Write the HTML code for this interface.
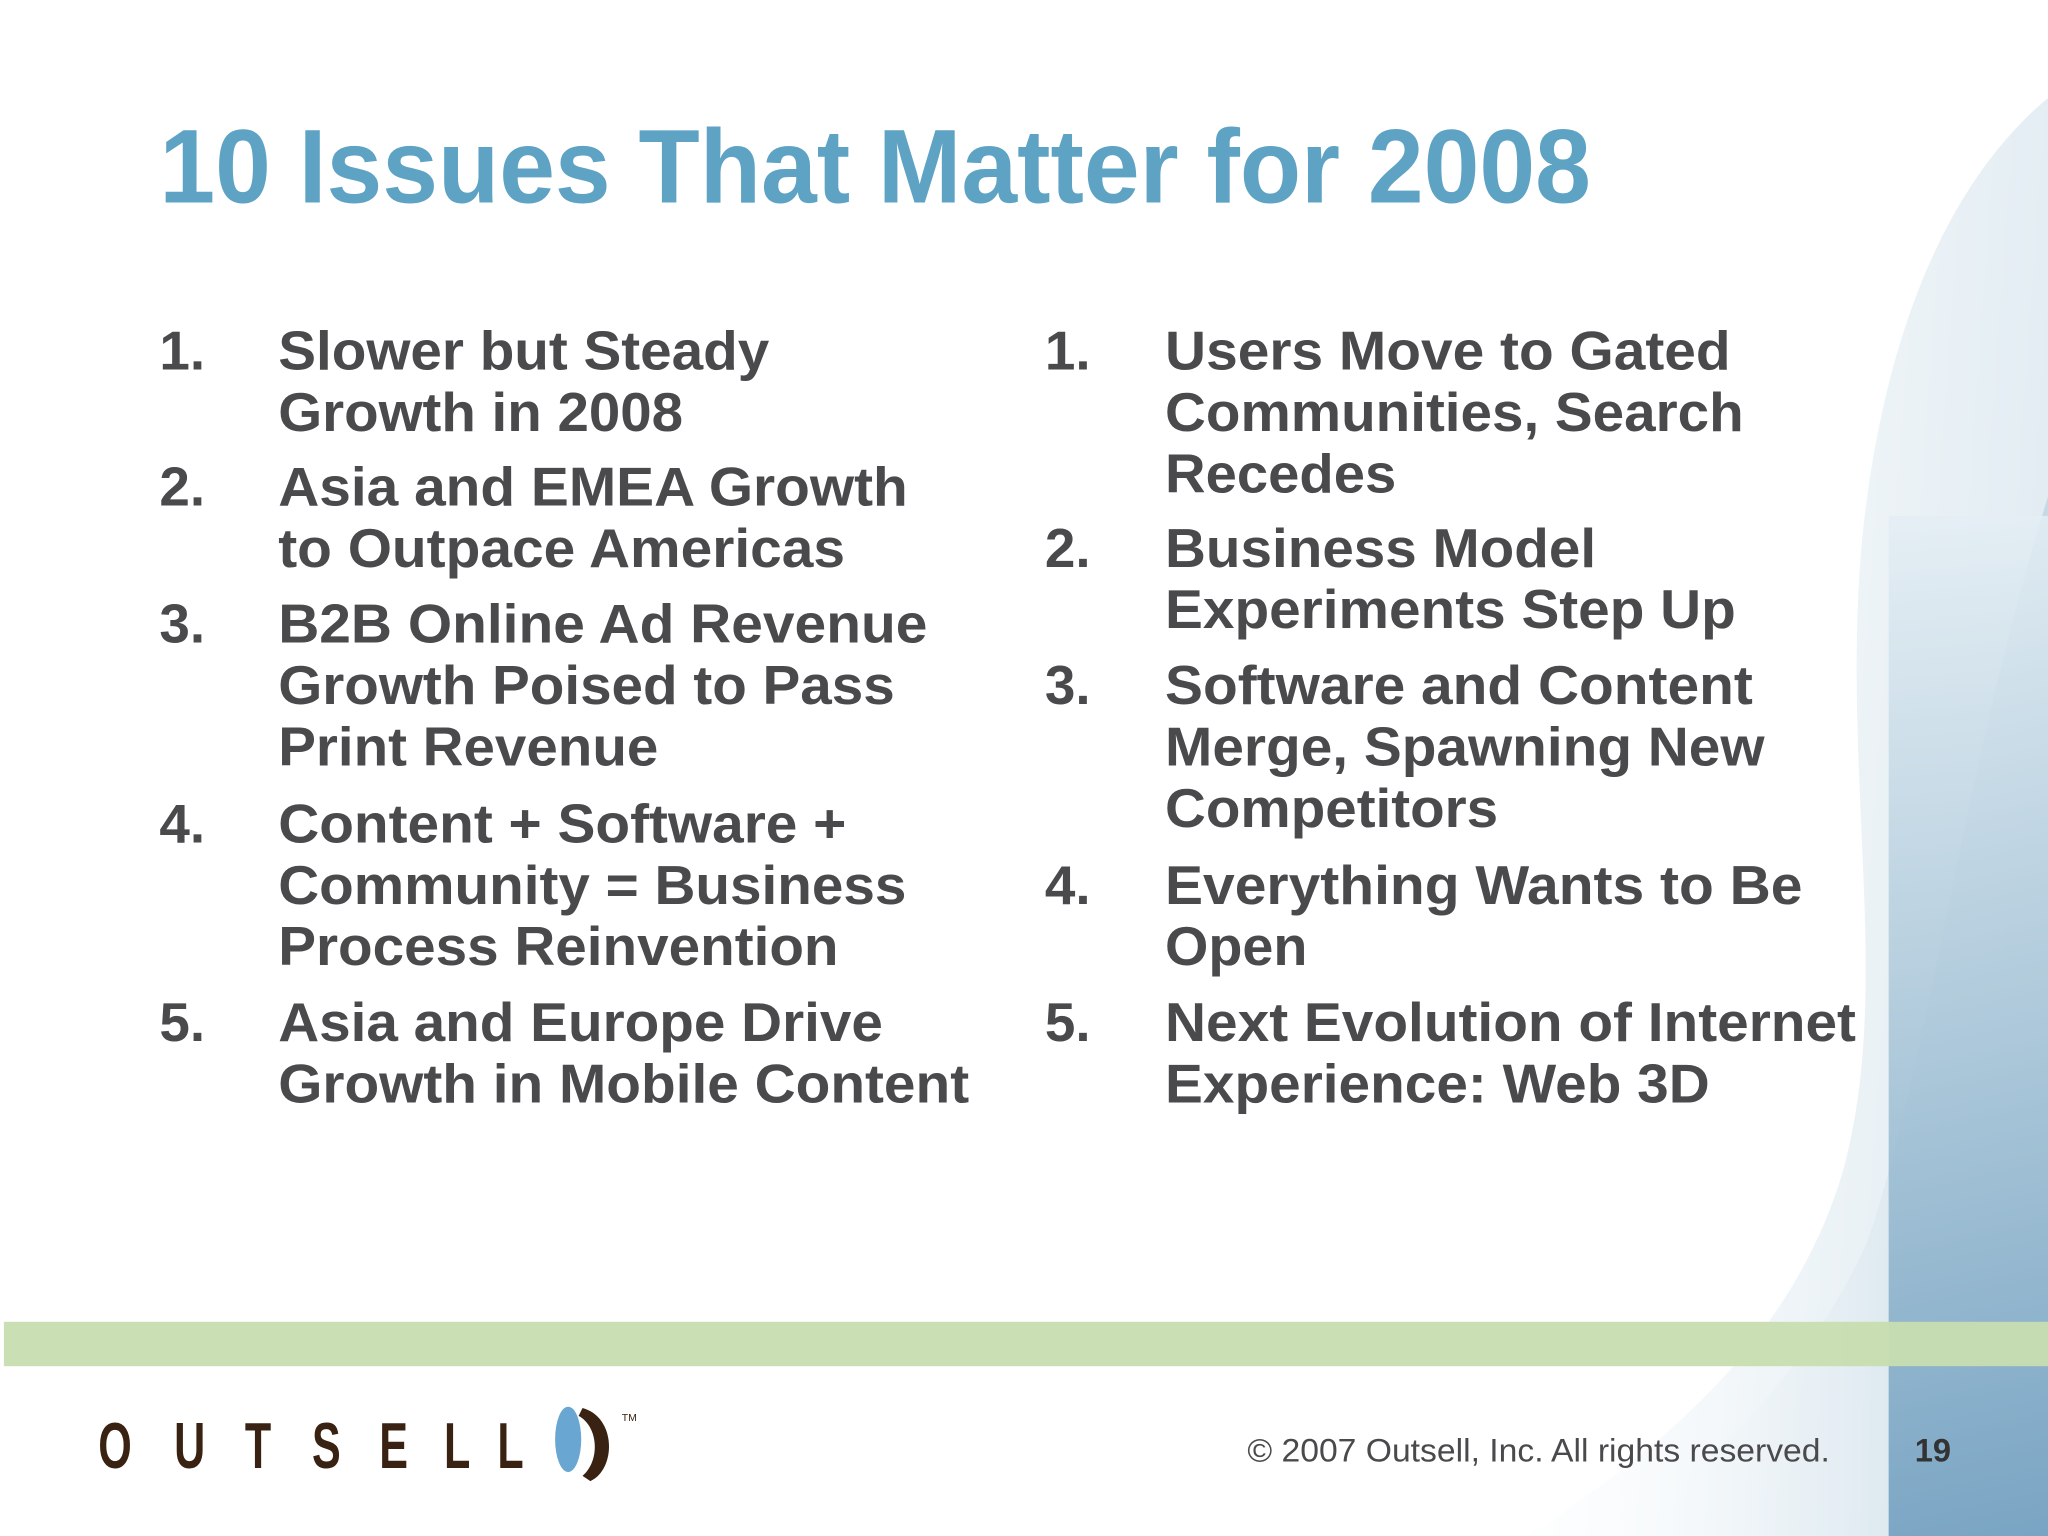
<!DOCTYPE html>
<html><head><meta charset="utf-8"><style>
html,body{margin:0;padding:0;background:#fff;}
svg{display:block;}
</style></head><body>
<svg width="2048" height="1536" viewBox="0 0 1568 1176" preserveAspectRatio="none" xmlns="http://www.w3.org/2000/svg" font-family="'Liberation Sans', Arial, sans-serif">
<defs>
<linearGradient id="g1" x1="0" y1="0" x2="1" y2="0.2">
<stop offset="0" stop-color="#ffffff" stop-opacity="0"/>
<stop offset="0.6" stop-color="#e6eff4"/>
<stop offset="1" stop-color="#cfe0ea"/>
</linearGradient>
<linearGradient id="g2" x1="0" y1="0" x2="0" y2="1">
<stop offset="0" stop-color="#e4eef4"/>
<stop offset="0.5" stop-color="#a8c5d8"/>
<stop offset="1" stop-color="#6b9bbd"/>
</linearGradient>
<linearGradient id="g3" x1="0" y1="0" x2="1" y2="0">
<stop offset="0" stop-color="#ffffff" stop-opacity="0"/>
<stop offset="1" stop-color="#b3cddd"/>
</linearGradient>
</defs>
<rect x="0" y="0" width="1568" height="1176" fill="#ffffff"/>
<path d="M1568,75 C1490,140 1440,260 1425,420 C1410,600 1450,760 1410,900 C1370,1030 1270,1110 1170,1176 L1568,1176 Z" fill="url(#g1)" opacity="0.6"/>
<path d="M1568,380 C1500,600 1480,800 1430,950 C1380,1060 1300,1130 1230,1176 L1568,1176 Z" fill="url(#g3)" opacity="0.6"/>
<rect x="1446" y="395" width="122" height="781" fill="url(#g2)" opacity="0.85"/>
<rect x="3" y="1012" width="1565" height="34" fill="#c8ddb0" opacity="0.95"/>

<text x="122" y="155" font-size="80" font-weight="bold" fill="#5fa3c4" textLength="1096" lengthAdjust="spacingAndGlyphs">10 Issues That Matter for 2008</text>

<g font-size="42" font-weight="bold" fill="#4a4a4c">
<text x="122" y="283">1.</text>
<text x="213" y="283" textLength="376" lengthAdjust="spacingAndGlyphs">Slower but Steady</text>
<text x="213" y="330" textLength="310" lengthAdjust="spacingAndGlyphs">Growth in 2008</text>
<text x="122" y="387">2.</text>
<text x="213" y="387" textLength="482" lengthAdjust="spacingAndGlyphs">Asia and EMEA Growth</text>
<text x="213" y="434" textLength="434" lengthAdjust="spacingAndGlyphs">to Outpace Americas</text>
<text x="122" y="492">3.</text>
<text x="213" y="492" textLength="497" lengthAdjust="spacingAndGlyphs">B2B Online Ad Revenue</text>
<text x="213" y="539" textLength="472" lengthAdjust="spacingAndGlyphs">Growth Poised to Pass</text>
<text x="213" y="586" textLength="291" lengthAdjust="spacingAndGlyphs">Print Revenue</text>
<text x="122" y="645">4.</text>
<text x="213" y="645" textLength="435" lengthAdjust="spacingAndGlyphs">Content + Software +</text>
<text x="213" y="692" textLength="481" lengthAdjust="spacingAndGlyphs">Community = Business</text>
<text x="213" y="739" textLength="429" lengthAdjust="spacingAndGlyphs">Process Reinvention</text>
<text x="122" y="797">5.</text>
<text x="213" y="797" textLength="463" lengthAdjust="spacingAndGlyphs">Asia and Europe Drive</text>
<text x="213" y="844" textLength="529" lengthAdjust="spacingAndGlyphs">Growth in Mobile Content</text>
</g>

<g font-size="42" font-weight="bold" fill="#4a4a4c">
<text x="800" y="283">1.</text>
<text x="892" y="283" textLength="433" lengthAdjust="spacingAndGlyphs">Users Move to Gated</text>
<text x="892" y="330" textLength="443" lengthAdjust="spacingAndGlyphs">Communities, Search</text>
<text x="892" y="377" textLength="177" lengthAdjust="spacingAndGlyphs">Recedes</text>
<text x="800" y="434">2.</text>
<text x="892" y="434" textLength="330" lengthAdjust="spacingAndGlyphs">Business Model</text>
<text x="892" y="481" textLength="437" lengthAdjust="spacingAndGlyphs">Experiments Step Up</text>
<text x="800" y="539">3.</text>
<text x="892" y="539" textLength="450" lengthAdjust="spacingAndGlyphs">Software and Content</text>
<text x="892" y="586" textLength="459" lengthAdjust="spacingAndGlyphs">Merge, Spawning New</text>
<text x="892" y="633" textLength="255" lengthAdjust="spacingAndGlyphs">Competitors</text>
<text x="800" y="692">4.</text>
<text x="892" y="692" textLength="488" lengthAdjust="spacingAndGlyphs">Everything Wants to Be</text>
<text x="892" y="739" textLength="109" lengthAdjust="spacingAndGlyphs">Open</text>
<text x="800" y="797">5.</text>
<text x="892" y="797" textLength="529" lengthAdjust="spacingAndGlyphs">Next Evolution of Internet</text>
<text x="892" y="844" textLength="417" lengthAdjust="spacingAndGlyphs">Experience: Web 3D</text>
</g>

<g>
<g transform="translate(0,1124) scale(0.66,1)" font-size="50" font-weight="bold" fill="#3a2212">
<text x="114" y="0">O</text>
<text x="202" y="0">U</text>
<text x="284" y="0">T</text>
<text x="362" y="0">S</text>
<text x="440" y="0">E</text>
<text x="515" y="0">L</text>
<text x="577" y="0">L</text>
</g>
<ellipse cx="435" cy="1102" rx="10" ry="25" fill="#6aa6d2"/>
<path d="M446,1078 C472,1085 472,1125 452,1134 L446,1130 C460,1118 458,1092 443,1084 Z" fill="#3a2212"/>
<text x="476" y="1088" font-size="8" fill="#3a2212">TM</text>
</g>

<text x="955" y="1119" font-size="25" fill="#4a4a4c" textLength="446" lengthAdjust="spacingAndGlyphs">© 2007 Outsell, Inc. All rights reserved.</text>
<text x="1466" y="1119" font-size="25" font-weight="bold" fill="#333333">19</text>
</svg>
</body></html>
